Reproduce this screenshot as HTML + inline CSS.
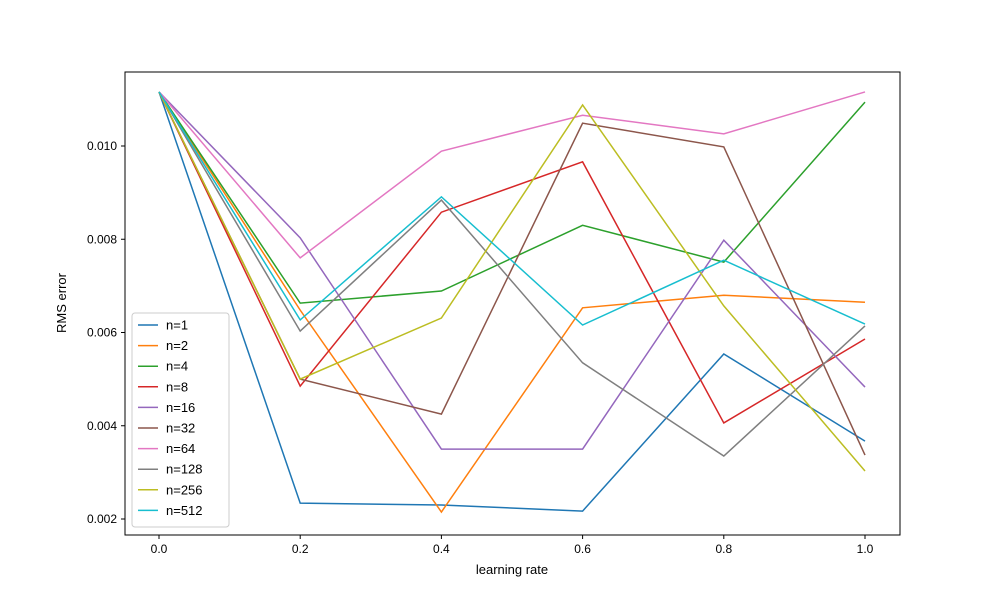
<!DOCTYPE html>
<html><head><meta charset="utf-8"><style>body{margin:0;background:#fff}svg{font-family:"Liberation Sans","DejaVu Sans",sans-serif}</style></head>
<body>
<svg id="chart" width="1000" height="600" xmlns="http://www.w3.org/2000/svg"></svg>
<script>
const xValues=[0,0.2,0.4,0.6,0.8,1.0];
const seriesNames=["n=1","n=2","n=4","n=8","n=16","n=32","n=64","n=128","n=256","n=512"];
const s1=[0.01116,0.00234,0.0023,0.00217,0.00554,0.00367];
const s2=[0.01116,0.00648,0.00215,0.00653,0.0068,0.00665];
const s4=[0.01116,0.00663,0.00689,0.0083,0.00751,0.01094];
const s8=[0.01116,0.00485,0.00858,0.00966,0.00406,0.00586];
const s16=[0.01116,0.00803,0.0035,0.0035,0.00798,0.00483];
const s32=[0.01116,0.005,0.00425,0.01049,0.00998,0.00337];
const s64=[0.01116,0.0076,0.00989,0.01066,0.01026,0.01116];
const s128=[0.01116,0.00603,0.00884,0.00535,0.00335,0.00614];
const s256=[0.01116,0.005,0.00631,0.01088,0.00657,0.00303];
const s512=[0.01116,0.00627,0.00891,0.00616,0.00755,0.00618];
const xTicks=[0,0.2,0.4,0.6,0.8,1.0];
const xTickLabels=["0.0","0.2","0.4","0.6","0.8","1.0"];
const yTicks=[0.002,0.004,0.006,0.008,0.010];
const yTickLabels=["0.002","0.004","0.006","0.008","0.010"];
const allSeries=[s1,s2,s4,s8,s16,s32,s64,s128,s256,s512];
const colors=["#1f77b4","#ff7f0e","#2ca02c","#d62728","#9467bd","#8c564b","#e377c2","#7f7f7f","#bcbd22","#17becf"];
const NS="http://www.w3.org/2000/svg";
const svg=document.getElementById('chart');
const X=v=>159+v*706;
const Y=v=>519-(v-0.002)/0.002*93.25;
function mk(t,a,p){const e=document.createElementNS(NS,t);for(const k in a)e.setAttribute(k,a[k]);(p||svg).appendChild(e);return e;}
const frame=mk('rect',{x:125,y:72,width:775,height:463,fill:'none',stroke:'#000','stroke-width':1});


xTicks.forEach((t,i)=>{
 const l=mk('line',{x1:X(t),x2:X(t),y1:535,y2:539,stroke:'#000'});
 
 
 const tx=mk('text',{x:X(t),y:553,'font-size':12,'text-anchor':'middle'});tx.textContent=xTickLabels[i];
 
 
});
yTicks.forEach((t,i)=>{
 const l=mk('line',{x1:121,x2:125,y1:Y(t),y2:Y(t),stroke:'#000'});
 
 
 const tx=mk('text',{x:117,y:Y(t)+4,'font-size':12,'text-anchor':'end'});tx.textContent=yTickLabels[i];
 
 
});
const xt=mk('text',{x:512,y:574,'font-size':13,'text-anchor':'middle'});xt.textContent='learning rate';


const yt=mk('text',{x:66,y:303,'font-size':13,'text-anchor':'middle',transform:'rotate(-90 66 303)'});yt.textContent='RMS error';


allSeries.forEach((s,i)=>{
 const p=mk('polyline',{points:s.map((v,j)=>X(xValues[j])+','+Y(v)).join(' '),fill:'none',stroke:colors[i],'stroke-width':1.5});
 
 
});
const lg=mk('g',{});


mk('rect',{x:132,y:313,width:97,height:214,rx:3,fill:'#fff','fill-opacity':0.8,stroke:'#ccc'},lg);
seriesNames.forEach((n,i)=>{
 const y=325+i*20.6;
 const e=mk('g',{},lg);
 
 
 mk('line',{x1:138,x2:158,y1:y,y2:y,stroke:colors[i],'stroke-width':1.5},e);
 const t=mk('text',{x:166,y:y+4.5,'font-size':13},e);t.textContent=n;
});
</script>
</body></html>
